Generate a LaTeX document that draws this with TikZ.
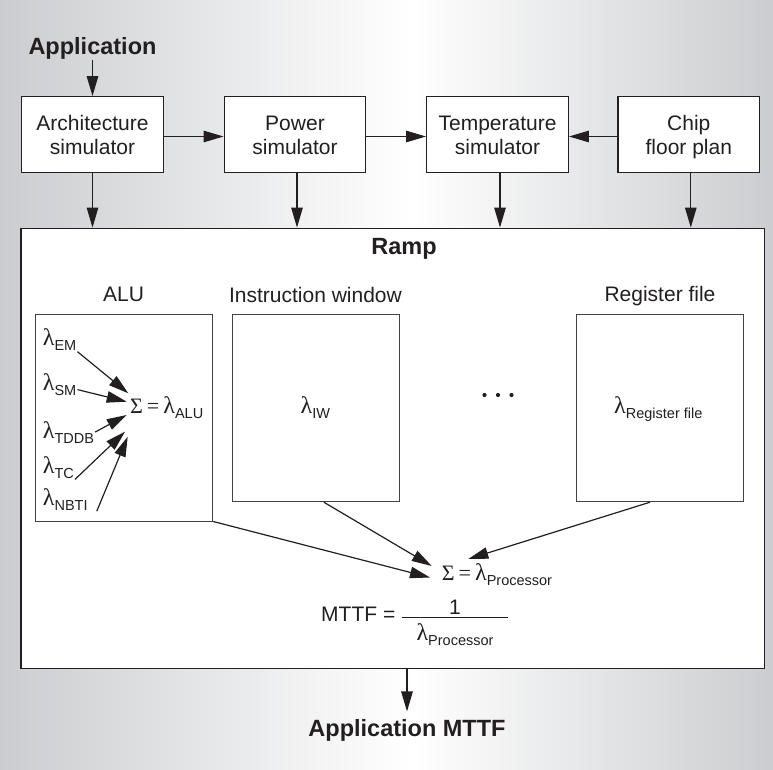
\documentclass[tikz,border=0pt]{standalone}
\usepackage{fontspec}
\setmainfont{Liberation Sans}
\newfontfamily\grk{Liberation Serif}
\usetikzlibrary{arrows.meta,calc}
\definecolor{ink}{RGB}{35,31,32}
\definecolor{bggray}{RGB}{203,205,208}
\newcommand{\lsub}[1]{{\grk\fontsize{24}{26}\selectfont λ}\raisebox{-5pt}{\fontsize{14.5}{15}\selectfont #1}}
\newcommand{\sumeq}[1]{{\grk\fontsize{22}{24}\selectfont Σ\kern4pt=\kern4pt{\fontsize{24}{26}\selectfont λ}}\raisebox{-5pt}{\fontsize{14.5}{15}\selectfont #1}}
\begin{document}
\begin{tikzpicture}[x=1pt,y=-1pt,
  every node/.style={text=ink, inner sep=0pt},
  txt/.style={font=\fontsize{21}{23.3}\selectfont},
  btxt/.style={font=\fontsize{23.5}{26}\selectfont\bfseries},
  simbox/.style={draw=ink, line width=1.3pt, fill=white, minimum width=141.6pt,
    minimum height=75.6pt, align=center, font=\fontsize{21}{23.3}\selectfont},
  unitbox/.style={draw=ink!85, line width=1pt, fill=white},
  arr/.style={draw=ink, line width=1.2pt, -{Triangle[length=20pt,width=11.5pt]}},
  lam/.style={font=\fontsize{20}{22}\selectfont, anchor=base west, inner sep=1pt}]
% background
\shade[left color=bggray, right color=white] (0,0) rectangle (410,770);
\shade[left color=white, right color=bggray] (410,0) rectangle (773,770);
\useasboundingbox (0,0) rectangle (773,770);

% top row
\node[btxt, anchor=base] (app) at (92.5,55) {Application};
\node[simbox] (arch) at (92.5,134.5) {\rule{0pt}{16pt}Architecture\\simulator};
\node[simbox] (power) at (295,134.5) {\rule{0pt}{16pt}Power\\simulator};
\node[simbox] (temp) at (497.5,134.5) {\rule{0pt}{16pt}Temperature\\simulator};
\node[simbox] (chip) at (688.8,134.5) {\rule{0pt}{16pt}Chip\\\raisebox{0pt}[\height][0pt]{floor plan}};

\draw[arr] (app.south) -- (arch.north);
\draw[arr] ([yshift=-2pt]arch.east) -- ([yshift=-2pt]power.west);
\draw[arr] ([yshift=-2pt]power.east) -- ([yshift=-2pt]temp.west);
\draw[arr] ([yshift=-2pt]chip.west) -- ([yshift=-2pt]temp.east);

% Ramp box
\node[draw=ink, line width=1.5pt, fill=white, minimum width=743.5pt, minimum height=440pt] (ramp) at (392.75,448.3) {};
\draw[arr] (arch.south) -- (arch.south |- ramp.north);
\draw[arr] ([xshift=2pt]power.south) -- ([xshift=2pt]power.south |- ramp.north);
\draw[arr] ([xshift=2.5pt]temp.south) -- ([xshift=2.5pt]temp.south |- ramp.north);
\draw[arr] ([xshift=2pt]chip.south) -- ([xshift=2pt]chip.south |- ramp.north);

\node[btxt, anchor=base] (rampl) at (404,254.3) {Ramp};
\node[txt, anchor=base] (alul) at (123.5,301.7) {ALU};
\node[txt, anchor=base] (iwl) at (315.5,302.7) {Instruction window};
\node[txt, anchor=base] (regl) at (660,301.7) {Register file};

\node[unitbox, minimum width=177.7pt, minimum height=206.7pt] (alu) at (123.85,417.65) {};
\node[unitbox, minimum width=166.7pt, minimum height=187.4pt] (iw) at (315.85,408) {};
\node[unitbox, minimum width=167pt, minimum height=187.4pt] (reg) at (659.5,408) {};

\fill[ink] (484.5,395) circle (2.1) (498,395) circle (2.1) (511.5,395) circle (2.1);

\node[lam] (liw) at (299.5,413) {\lsub{IW}};
\node[lam] (lreg) at (613,413) {\lsub{Register file}};

% ALU contents
\node[lam] (lem) at (41.7,345.5) {\lsub{EM}};
\node[lam] (lsm) at (41.7,390.5) {\lsub{SM}};
\node[lam] (ltddb) at (41.7,438) {\lsub{TDDB}};
\node[lam] (ltc) at (41.7,473) {\lsub{TC}};
\node[lam] (lnbti) at (41.7,505) {\lsub{NBTI}};
\node[lam] (salu) at (129,413.3) {\sumeq{ALU}};

\coordinate (tem) at (128.3,393.3);
\coordinate (tsm) at (126.7,401.7);
\coordinate (ttddb) at (126.7,415);
\coordinate (ttc) at (125,431.7);
\coordinate (tnbti) at (127.7,436.7);
\draw[arr] (lem.south east) -- (tem);
\draw[arr] ([yshift=-5pt]lsm.east) -- (tsm);
\draw[arr] (ltddb.east) -- (ttddb);
\draw[arr] (ltc.south east) -- (ttc);
\draw[arr] ([xshift=8pt]lnbti.south east) -- (tnbti);

% processor sum
\node[lam] (sproc) at (440.7,580) {\sumeq{Processor}};
\coordinate (ta) at (430,577.5);
\coordinate (tb) at (431.7,566);
\coordinate (tc) at (468.3,559);
\draw[arr] (alu.south east) -- (ta);
\draw[arr] ([xshift=8pt]iw.south) -- (tb);
\draw[arr] ([xshift=-9.5pt]reg.south) -- (tc);

% MTTF
\node[txt, anchor=base west] (mttf) at (321,621.7) {MTTF =};
\node[txt, anchor=base] (one) at (455,614.3) {1};
\node[lam, anchor=base] (den) at (455,640.7) {\lsub{Processor}};
\draw[ink, line width=1.1pt] (402,617.7) -- (508,617.7);

% output
\node[btxt, anchor=base, outer ysep=7.5pt] (appm) at (407,736) {Application MTTF};
\draw[arr] (appm.north |- ramp.south) -- (appm.north);
\end{tikzpicture}
\end{document}
